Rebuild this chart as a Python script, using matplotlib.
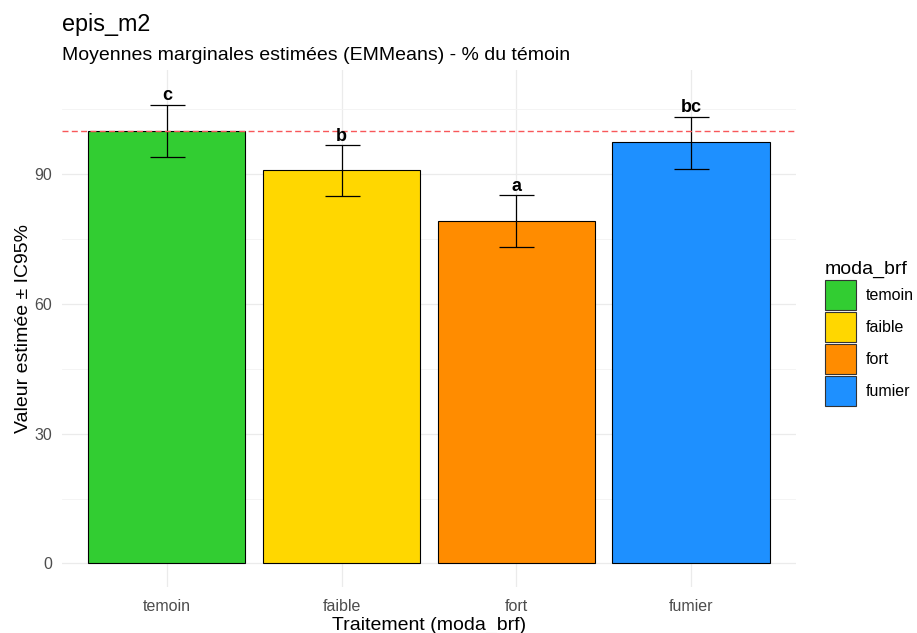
import numpy as np
import matplotlib.pyplot as plt
from matplotlib.patches import Patch

categories = ["temoin", "faible", "fort", "fumier"]
estimates = [100.0, 90.9, 79.2, 97.4]
lower_ci = [93.9, 84.9, 73.1, 91.2]
upper_ci = [106.0, 96.7, 85.1, 103.2]
letters = ["c", "b", "a", "bc"]
colors = ["#32CD32", "#FFD700", "#FF8C00", "#1E90FF"]

plt.rcParams['font.family'] = ['Liberation Sans', 'DejaVu Sans']

fig = plt.figure(figsize=(9.17, 6.33), dpi=100)
ax = fig.add_axes([0.0676, 0.0727, 0.8004, 0.8167])

x = np.arange(1, len(categories) + 1)
est = np.array(estimates)
lo = np.array(lower_ci)
hi = np.array(upper_ci)

ax.bar(x, est, width=0.9, color=colors, edgecolor="black", linewidth=0.8, zorder=2)
ax.errorbar(x, est, yerr=[est - lo, hi - est], fmt="none", ecolor="black",
            elinewidth=0.9, capsize=12.6, capthick=0.9, zorder=3)
ax.axhline(100, color="#F8575A", linestyle=(0, (4.3, 2.4)), linewidth=1.0, zorder=4)

for xi, h, lab in zip(x, hi, letters):
    ax.text(xi, h + 1.0, lab, ha="center", va="baseline", fontsize=13,
            fontweight="bold", color="black", zorder=5)

ax.set_xlim(0.4, 4.6)
ax.set_ylim(-5.43, 114)
ax.set_xticks(x)
ax.set_xticklabels(categories)
ax.set_yticks([0, 30, 60, 90])
ax.set_yticks([15, 45, 75, 105], minor=True)
ax.tick_params(axis="both", which="both", length=0, colors="#4D4D4D", labelsize=11.5)
ax.tick_params(axis="x", pad=9)
ax.tick_params(axis="y", pad=7)
ax.grid(which="major", color="#EBEBEB", linewidth=0.9, zorder=0)
ax.grid(which="minor", axis="y", color="#F3F3F3", linewidth=0.6, zorder=0)
for s in ax.spines.values():
    s.set_visible(False)

ax.set_ylabel("Valeur estimée ± IC95%", fontsize=14)
ax.yaxis.set_label_coords(-0.041, 0.5)
ax.set_xlabel("Traitement (moda_brf)", fontsize=14)
ax.xaxis.set_label_coords(0.5, -0.058)

fig.text(0.0676, 0.951, "epis_m2", fontsize=16.8, ha="left", va="baseline")
fig.text(0.0676, 0.905, "Moyennes marginales estimées (EMMeans) - % du témoin",
         fontsize=14, ha="left", va="baseline")

handles = [Patch(facecolor=c, edgecolor="#333333", linewidth=0.8) for c in colors]
fig.legend(handles, categories, title="moda_brf", loc="upper left",
           bbox_to_anchor=(0.8905, 0.600), frameon=False, fontsize=11.5,
           title_fontsize=14, handlelength=1.94, handleheight=2.51,
           labelspacing=0.125, handletextpad=0.63, borderpad=0, alignment="left")

fig.savefig("out.png", dpi=100)
